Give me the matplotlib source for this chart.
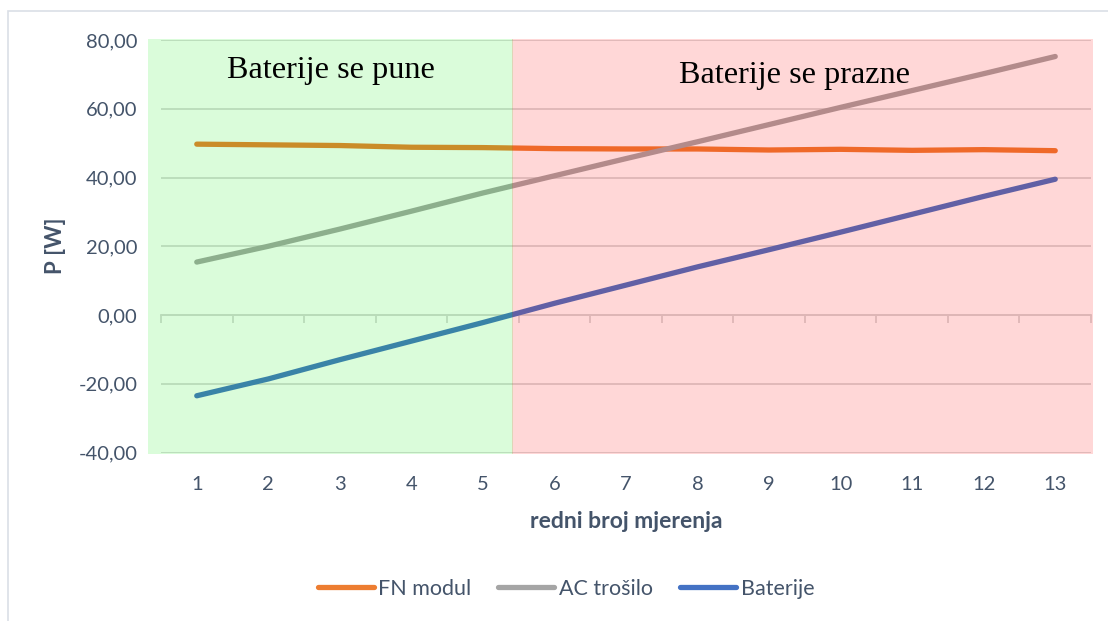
import matplotlib
matplotlib.use("Agg")
import matplotlib.pyplot as plt
import matplotlib.patches as mpatches
from matplotlib.lines import Line2D

# ---- data ----
measurements = [1, 2, 3, 4, 5, 6, 7, 8, 9, 10, 11, 12, 13]
fn_modul = [49.7, 49.5, 49.3, 48.8, 48.7, 48.4, 48.3, 48.3, 48.0, 48.2, 47.9, 48.1, 47.8]
ac_trosilo = [15.4, 20.0, 25.0, 30.2, 35.5, 40.5, 45.5, 50.4, 55.4, 60.4, 65.3, 70.2, 75.2]
baterije = [-23.5, -18.6, -13.0, -7.6, -2.2, 3.4, 8.7, 14.0, 19.0, 24.1, 29.3, 34.5, 39.5]
series_names = ["FN modul", "AC trošilo", "Baterije"]
y_ticks = [-40, -20, 0, 20, 40, 60, 80]
region_labels = ["Baterije se pune", "Baterije se prazne"]

# ---- styling ----
colors = ["#ED7D31", "#A5A5A5", "#4472C4"]
text_col = "#44546A"
grid_col = "#D9D9D9"
W, H = 1108, 621

plt.rcParams['font.family'] = ['Lato', 'DejaVu Sans']
fig = plt.figure(figsize=(W / 100, H / 100), dpi=100)
fig.patch.set_facecolor("white")

# outer chart frame
frame = mpatches.Rectangle((7.5 / W, -0.2), 1.2, 1.2 - 10.5 / H,
                           transform=fig.transFigure, fill=False,
                           edgecolor="#DADFE6", linewidth=1.2)
fig.patches.append(frame)

left, right = 161 / W, 1091 / W
top, bottom = 1 - 40 / H, 1 - 452.5 / H
ax = fig.add_axes([left, bottom, right - left, top - bottom])
ax.set_facecolor("none")

for vals, c, name in zip([fn_modul, ac_trosilo, baterije], colors, series_names):
    ax.plot(measurements, vals, color=c, lw=3.8, solid_capstyle="round",
            solid_joinstyle="round", label=name, zorder=3)

ax.set_xlim(0.5, 13.5)
ax.set_ylim(-40, 80)
ax.set_yticks(y_ticks)
ax.set_yticklabels([f"{v:.2f}".replace(".", ",") for v in y_ticks])
ax.set_xticks(measurements)
ax.set_xticklabels([str(m) for m in measurements])
ax.tick_params(axis="y", length=0, pad=17, labelsize=14.5, labelcolor=text_col)
ax.tick_params(axis="x", length=0, pad=17, labelsize=14.5, labelcolor=text_col)
ax.grid(axis="y", color=grid_col, lw=1.3, zorder=1)
ax.set_axisbelow(True)
for s in ax.spines.values():
    s.set_visible(False)

# category axis crossing at 0 with tick marks between categories
sec = ax.secondary_xaxis(1 / 3)
sec.set_xticks([m - 0.5 for m in measurements] + [measurements[-1] + 0.5])
sec.tick_params(axis="x", direction="out", length=6, width=1.3, color=grid_col,
                labelbottom=False, labeltop=False)
sec.spines["bottom"].set_color(grid_col)
sec.spines["bottom"].set_linewidth(1.3)
sec.spines["top"].set_visible(False)

ax.set_ylabel("P [W]", fontsize=16, fontweight="bold", color=text_col, va="center")
ax.yaxis.set_label_coords((56 - 161) / 930, 0.5)
ax.set_xlabel("redni broj mjerenja", fontsize=16.5, fontweight="bold", color=text_col, va="center")
ax.xaxis.set_label_coords(0.5, (452.5 - 521) / 412.5)

# shaded regions (semi-transparent overlays on top of the lines)
charge_start, charge_end, discharge_end = 0.315, 5.40, 13.53
y0, y1 = -40.3, 80.3
ax.add_patch(mpatches.Rectangle((charge_start, y0), charge_end - charge_start + 0.02, y1 - y0,
                                facecolor=(0.0, 0.92, 0.0, 0.145), edgecolor="none",
                                zorder=5, clip_on=False))
ax.add_patch(mpatches.Rectangle((charge_end, y0), discharge_end - charge_end, y1 - y0,
                                facecolor=(1.0, 0.0, 0.0, 0.157), edgecolor="none",
                                zorder=5, clip_on=False))

ax.text(2.88, 71.0, region_labels[0], family="Liberation Serif", fontsize=23.2,
        ha="center", va="center", color="black", zorder=6)
ax.text(9.36, 69.8, region_labels[1], family="Liberation Serif", fontsize=23.2,
        ha="center", va="center", color="black", zorder=6)

handles = [Line2D([], [], color=c, lw=3.8, solid_capstyle="round") for c in colors]
leg = fig.legend(handles, series_names, loc="center", bbox_to_anchor=(566 / W, 1 - 589 / H),
                 ncol=3, frameon=False, fontsize=15.5, handlelength=2.6, handletextpad=0.22,
                 columnspacing=1.25)
for t in leg.get_texts():
    t.set_color(text_col)

fig.savefig("out.png", dpi=100)
